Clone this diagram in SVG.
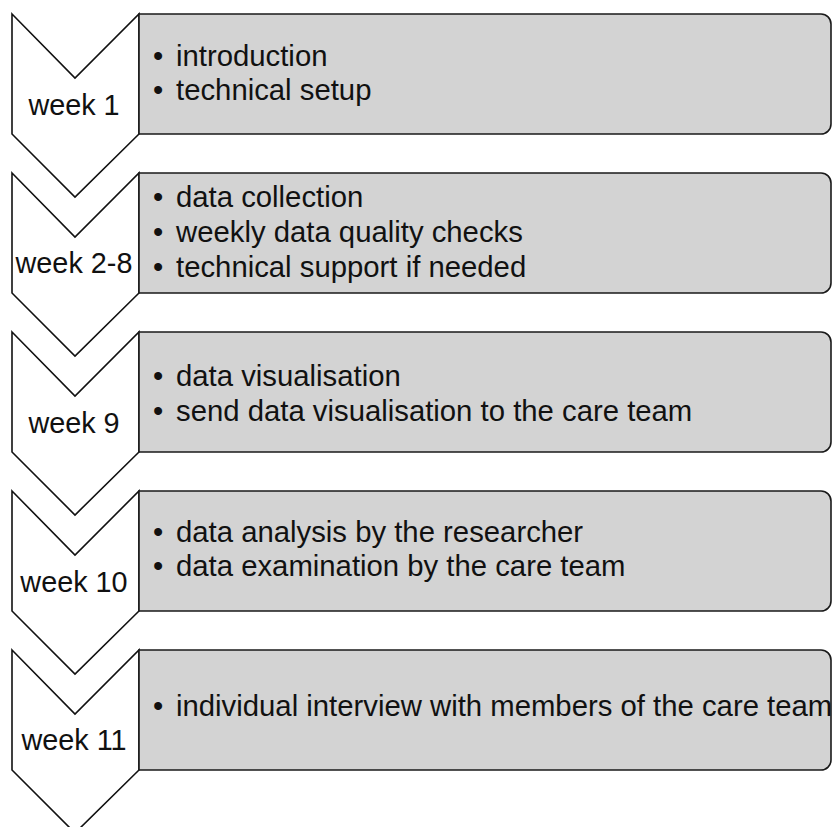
<svg xmlns="http://www.w3.org/2000/svg" width="833" height="827" viewBox="0 0 833 827">
<style>
.chev{fill:#ffffff;stroke:#111;stroke-width:1.6;stroke-linejoin:miter}
.box{fill:#d3d3d3;stroke:#1a1a1a;stroke-width:1.6}
.lbl{font-family:"Liberation Sans",Arial,sans-serif;font-size:28.8px;fill:#111;text-anchor:middle}
.txt{font-family:"Liberation Sans",Arial,sans-serif;font-size:29.3px;fill:#111}
</style>
<rect width="833" height="827" fill="#ffffff"/>

<g id="step1">
  <g id="chevron1"><path class="chev" d="M12,14 L75,78 L139,14 L139,134 L75,197 L12,134 Z"/><text class="lbl" x="74" y="115">week 1</text></g>
  <g id="box1"><path class="box" d="M139,14 H821 A10,10 0 0 1 831,24 V124 A10,10 0 0 1 821,134 H139 Z"/>
    <text class="txt" x="153" y="66">•</text><text class="txt" x="176" y="66">introduction</text>
    <text class="txt" x="153" y="100">•</text><text class="txt" x="176" y="100">technical setup</text></g>
</g>

<g id="step2">
  <g id="chevron2"><path class="chev" d="M12,173 L75,237 L139,173 L139,293 L75,356 L12,293 Z"/><text class="lbl" x="74" y="273">week 2-8</text></g>
  <g id="box2"><path class="box" d="M139,173 H821 A10,10 0 0 1 831,183 V283 A10,10 0 0 1 821,293 H139 Z"/>
    <text class="txt" x="153" y="207">•</text><text class="txt" x="176" y="207">data collection</text>
    <text class="txt" x="153" y="242">•</text><text class="txt" x="176" y="242">weekly data quality checks</text>
    <text class="txt" x="153" y="277">•</text><text class="txt" x="176" y="277">technical support if needed</text></g>
</g>

<g id="step3">
  <g id="chevron3"><path class="chev" d="M12,332 L75,396 L139,332 L139,452 L75,515 L12,452 Z"/><text class="lbl" x="74" y="433">week 9</text></g>
  <g id="box3"><path class="box" d="M139,332 H821 A10,10 0 0 1 831,342 V442 A10,10 0 0 1 821,452 H139 Z"/>
    <text class="txt" x="153" y="386">•</text><text class="txt" x="176" y="386">data visualisation</text>
    <text class="txt" x="153" y="421">•</text><text class="txt" x="176" y="421">send data visualisation to the care team</text></g>
</g>

<g id="step4">
  <g id="chevron4"><path class="chev" d="M12,491 L75,555 L139,491 L139,611 L75,674 L12,611 Z"/><text class="lbl" x="74" y="592">week 10</text></g>
  <g id="box4"><path class="box" d="M139,491 H821 A10,10 0 0 1 831,501 V601 A10,10 0 0 1 821,611 H139 Z"/>
    <text class="txt" x="153" y="542">•</text><text class="txt" x="176" y="542">data analysis by the researcher</text>
    <text class="txt" x="153" y="576">•</text><text class="txt" x="176" y="576">data examination by the care team</text></g>
</g>

<g id="step5">
  <g id="chevron5"><path class="chev" d="M12,650 L75,714 L139,650 L139,770 L75,833 L12,770 Z"/><text class="lbl" x="74" y="750">week 11</text></g>
  <g id="box5"><path class="box" d="M139,650 H821 A10,10 0 0 1 831,660 V760 A10,10 0 0 1 821,770 H139 Z"/>
    <text class="txt" x="153" y="716">•</text><text class="txt" x="176" y="716">individual interview with members of the care team</text></g>
</g>

<g id="connectors"></g>
</svg>
